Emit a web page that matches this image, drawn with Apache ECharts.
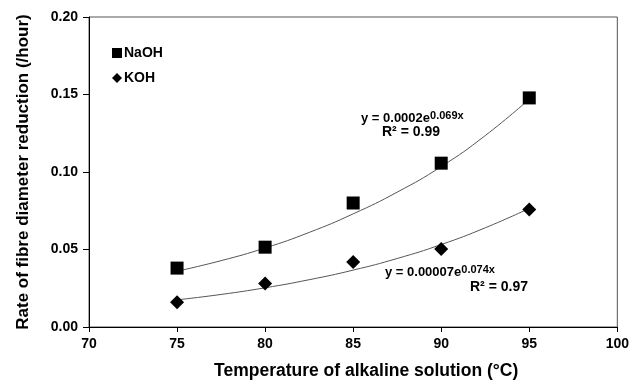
<!DOCTYPE html>
<html><head><meta charset="utf-8">
<script src="https://cdn.jsdelivr.net/npm/echarts@6/dist/echarts.min.js"></script>
<style>html,body{margin:0;padding:0;background:#fff}#c{width:632px;height:385px}</style>
</head><body><div id="c"></div>
<script>
const temps = [75, 80, 85, 90, 95];
const naoh = [0.038, 0.0515, 0.080, 0.1057, 0.1478];
const koh = [0.016, 0.028, 0.042, 0.0503, 0.0758];
const trendX = [75, 77.5, 80, 82.5, 85, 87.5, 90, 92.5, 95];
const naohTrend = [0.036, 0.0428, 0.051, 0.061, 0.073, 0.087, 0.1035, 0.1235, 0.147];
const kohTrend = [0.0175, 0.021, 0.0253, 0.0305, 0.0367, 0.0442, 0.0532, 0.064, 0.0765];
const xTicks = [70, 75, 80, 85, 90, 95, 100];
const yTicks = [0, 0.05, 0.10, 0.15, 0.20];

const font = 'Liberation Sans, Arial, sans-serif';
const chart = echarts.init(document.getElementById('c'), null, {renderer: 'canvas'});
const pair = (xs, ys) => xs.map((x, i) => [x, ys[i]]);
const eqRich = {
  b: {fontFamily: font, fontWeight: 'bold', fontSize: 13, fill: '#000'},
  s: {fontFamily: font, fontWeight: 'bold', fontSize: 11, fill: '#000', verticalAlign: 'top', padding: [0,0,5,0]}
};
chart.setOption({
  animation: false,
  grid: {left: 89, right: 14, top: 17, bottom: 54, show: true, borderColor: '#555', borderWidth: 1},
  legend: {
    orient: 'vertical', left: 107, top: 41, itemGap: 11, itemWidth: 10, itemHeight: 10,
    textStyle: {fontFamily: font, fontWeight: 'bold', fontSize: 14, color: '#000', padding: [0,0,0,-3]},
    data: [{name: 'NaOH', icon: 'rect'}, {name: 'KOH', icon: 'diamond'}]
  },
  xAxis: {
    type: 'value', min: xTicks[0], max: xTicks[xTicks.length-1], interval: 5,
    name: 'Temperature of alkaline solution (°C)', nameLocation: 'middle', nameGap: 35,
    nameTextStyle: {fontFamily: font, fontWeight: 'bold', fontSize: 17.5, color: '#000', padding: [0,0,0,26]},
    axisLine: {lineStyle: {color: '#000', width: 1}},
    axisTick: {show: true, length: 5, lineStyle: {color: '#000'}},
    axisLabel: {fontFamily: font, fontWeight: 'bold', fontSize: 14, color: '#000', margin: 10},
    splitLine: {show: false}
  },
  yAxis: {
    type: 'value', min: yTicks[0], max: yTicks[yTicks.length-1], interval: 0.05,
    name: 'Rate of fibre diameter reduction (/hour)', nameLocation: 'middle', nameGap: 57,
    nameTextStyle: {fontFamily: font, fontWeight: 'bold', fontSize: 17, color: '#000'},
    axisLine: {show: true, lineStyle: {color: '#000', width: 1}},
    axisTick: {show: true, length: 6, lineStyle: {color: '#000'}},
    axisLabel: {fontFamily: font, fontWeight: 'bold', fontSize: 14, color: '#000', margin: 11,
      formatter: v => v.toFixed(2)},
    splitLine: {show: false}
  },
  series: [
    {name: 'NaOH', type: 'scatter', symbol: 'rect', symbolSize: 13, itemStyle: {color: '#000', opacity: 1},
      data: pair(temps, naoh), z: 3},
    {name: 'KOH', type: 'scatter', symbol: 'diamond', symbolSize: 14, itemStyle: {color: '#000', opacity: 1},
      data: pair(temps, koh), z: 3},
    {name: 'NaOH trend', type: 'line', smooth: true, symbol: 'none', lineStyle: {color: '#555', width: 1},
      data: pair(trendX, naohTrend), z: 2},
    {name: 'KOH trend', type: 'line', smooth: true, symbol: 'none', lineStyle: {color: '#555', width: 1},
      data: pair(trendX, kohTrend), z: 2}
  ],
  graphic: [
    {type: 'text', left: 361, top: 110, style: {text: '{b|y = 0.0002e}{s|0.069x}', rich: eqRich}},
    {type: 'text', left: 382, top: 125, style: {text: 'R² = 0.99', fontFamily: font, fontWeight: 'bold', fontSize: 14, fill: '#000'}},
    {type: 'text', left: 385, top: 264, style: {text: '{b|y = 0.00007e}{s|0.074x}', rich: eqRich}},
    {type: 'text', left: 470, top: 280, style: {text: 'R² = 0.97', fontFamily: font, fontWeight: 'bold', fontSize: 14, fill: '#000'}}
  ]
});
</script></body></html>
